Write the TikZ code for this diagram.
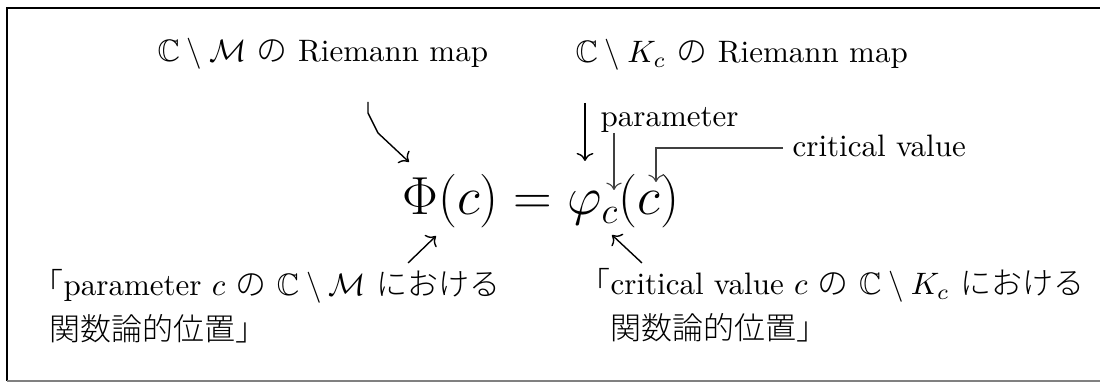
\documentclass[tikz,border=0pt]{standalone}
\usepackage{amsmath}
\usepackage{amssymb}
\usepackage{fontspec}
\newfontfamily\jpfont{Noto Sans CJK JP}[UprightFont={* Light}]
\usepackage{tikz}
\usetikzlibrary{positioning, calc, arrows.meta}

\begin{document}
\begin{tikzpicture}[x=0.3226pt, y=-0.3226pt,
    lbl/.style={inner sep=0pt, anchor=base west},
    ptr/.style={->, line width=0.45pt},
    faint/.style={->, line width=0.35pt, black!75}]
  \useasboundingbox (0,0) rectangle (1100,383);
  % frame, open on the right
  \draw[line width=0.7pt] (1100,8) -- (7,8) -- (7,381);
  \draw[line width=0.5pt, black!50] (7,381) -- (1100,381);

  % labels
  \node[lbl] (mapM) at (157,62) {$\mathbb{C}\setminus\mathcal{M}$ {\jpfont の} Riemann map};
  \node[lbl] (mapK) at (575,63) {$\mathbb{C}\setminus K_c$ {\jpfont の} Riemann map};
  \node[lbl] (param) at (600,127) {parameter};
  \node[lbl] (crit) at (792,157) {critical value};
  \node[lbl] (eq) at (402,215) {\LARGE $\Phi(c) = \varphi_c(c)$};

  \node[lbl] (posM) at (32,296) {{\jpfont 「}parameter $c$ {\jpfont の} $\mathbb{C}\setminus\mathcal{M}$ {\jpfont における}};
  \node[lbl] (posMb) at (49,341) {\jpfont 関数論的位置」};
  \node[lbl] (posK) at (579,295) {{\jpfont 「}critical value $c$ {\jpfont の} $\mathbb{C}\setminus K_c$ {\jpfont における}};
  \node[lbl] (posKb) at (610,340) {\jpfont 関数論的位置」};

  % ends of the pointers
  \coordinate (footM) at (368,102);
  \coordinate (footK) at (585,103);
  \coordinate (footP) at (614,133);
  \coordinate (footC) at (783,148);
  \coordinate (riseM) at (408,263);
  \coordinate (riseK) at (642,263);
  \coordinate (tipPhi) at (409,162);
  \coordinate (tipphi) at (585,161);
  \coordinate (tipsub) at (614,190);
  \coordinate (tiparg) at (656,182);
  \coordinate (tipPhiB) at (436,236);
  \coordinate (tipsubB) at (612,235);

  \draw[ptr] (footM) -- ++(0,11) -- ++(10,20) -- (tipPhi);
  \draw[ptr] (footK) -- (tipphi);
  \draw[faint] (footP) -- (tipsub);
  \draw[faint] (footC) -| (tiparg);
  \draw[ptr] (riseM) -- (tipPhiB);
  \draw[ptr] (riseK) -- (tipsubB);
\end{tikzpicture}
\end{document}
